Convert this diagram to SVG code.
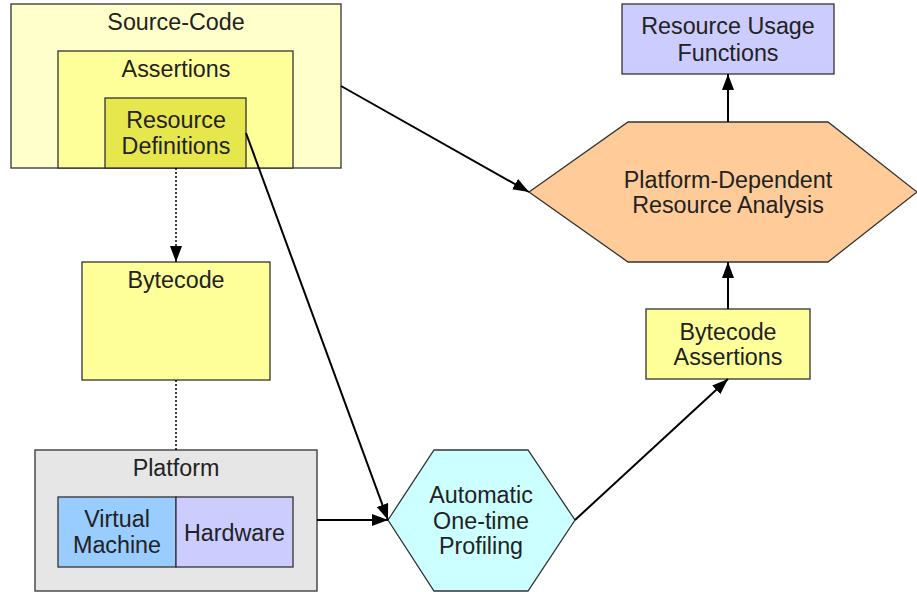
<svg xmlns="http://www.w3.org/2000/svg" width="917" height="592" viewBox="0 0 917 592">
<style>
text{font-family:"Liberation Sans",Arial,sans-serif;font-size:23.3px;fill:#222;text-anchor:middle}
.box{stroke:#333;stroke-width:1.3}
.edge{stroke:#000;stroke-width:2;fill:none}
.dot{stroke:#000;stroke-width:1.5;stroke-dasharray:2,2;fill:none}
</style>
<defs>
<marker id="ah" viewBox="0 0 16 12" refX="16" refY="6" markerWidth="16" markerHeight="12" markerUnits="userSpaceOnUse" orient="auto">
<path d="M0,0 L16,6 L0,12 Z" fill="#000"/>
</marker>
</defs>
<g id="source-code">
<rect class="box" x="11" y="4" width="330" height="164" fill="#ffffcc" stroke="#000"/>
<text x="176" y="30">Source-Code</text>
</g>
<g id="assertions">
<rect class="box" x="58" y="51" width="235" height="117" fill="#ffff99"/>
<text x="176" y="77">Assertions</text>
</g>
<g id="resource-definitions">
<rect class="box" x="105" y="98" width="141" height="70" fill="#e6e64d"/>
<text x="176" y="128">Resource</text>
<text x="176" y="154">Definitions</text>
</g>
<g id="bytecode">
<rect class="box" x="82" y="262" width="188" height="118" fill="#ffff99"/>
<text x="176" y="288">Bytecode</text>
</g>
<g id="platform">
<rect class="box" x="35" y="450" width="282" height="141" fill="#e6e6e6"/>
<text x="176" y="476">Platform</text>
</g>
<g id="virtual-machine">
<rect class="box" x="58" y="497" width="118" height="70" fill="#99ccff"/>
<text x="117" y="527">Virtual</text>
<text x="117" y="553">Machine</text>
</g>
<g id="hardware">
<rect class="box" x="176" y="497" width="117" height="70" fill="#ccccff"/>
<text x="234.5" y="541">Hardware</text>
</g>
<g id="resource-usage-functions">
<rect class="box" x="622" y="4" width="212" height="70" fill="#ccccff"/>
<text x="728" y="34">Resource Usage</text>
<text x="728" y="61">Functions</text>
</g>
<g id="platform-dependent-analysis">
<polygon class="box" points="529,192 628,122 828,122 917,192 828,262 628,262" fill="#ffcc99"/>
<text x="728" y="188">Platform-Dependent</text>
<text x="728" y="213">Resource Analysis</text>
</g>
<g id="bytecode-assertions">
<rect class="box" x="646" y="309" width="164" height="70" fill="#ffff99"/>
<text x="728" y="340">Bytecode</text>
<text x="728" y="365">Assertions</text>
</g>
<g id="profiling">
<polygon class="box" points="388,520 434,450 528,450 575,520 528,591 434,591" fill="#ccffff"/>
<text x="481" y="503">Automatic</text>
<text x="481" y="529">One-time</text>
<text x="481" y="554">Profiling</text>
</g>
<g id="connectors">
<line class="dot" x1="176" y1="168" x2="176" y2="262" marker-end="url(#ah)"/>
<line class="dot" x1="176" y1="380" x2="176" y2="450"/>
<line class="edge" x1="341" y1="86" x2="529" y2="192" marker-end="url(#ah)"/>
<line class="edge" x1="246" y1="133" x2="388" y2="520" marker-end="url(#ah)"/>
<line class="edge" x1="317" y1="520" x2="388" y2="520" marker-end="url(#ah)"/>
<line class="edge" x1="575" y1="520" x2="728" y2="379" marker-end="url(#ah)"/>
<line class="edge" x1="728" y1="309" x2="728" y2="262" marker-end="url(#ah)"/>
<line class="edge" x1="728" y1="122" x2="728" y2="74" marker-end="url(#ah)"/>
</g>
</svg>
